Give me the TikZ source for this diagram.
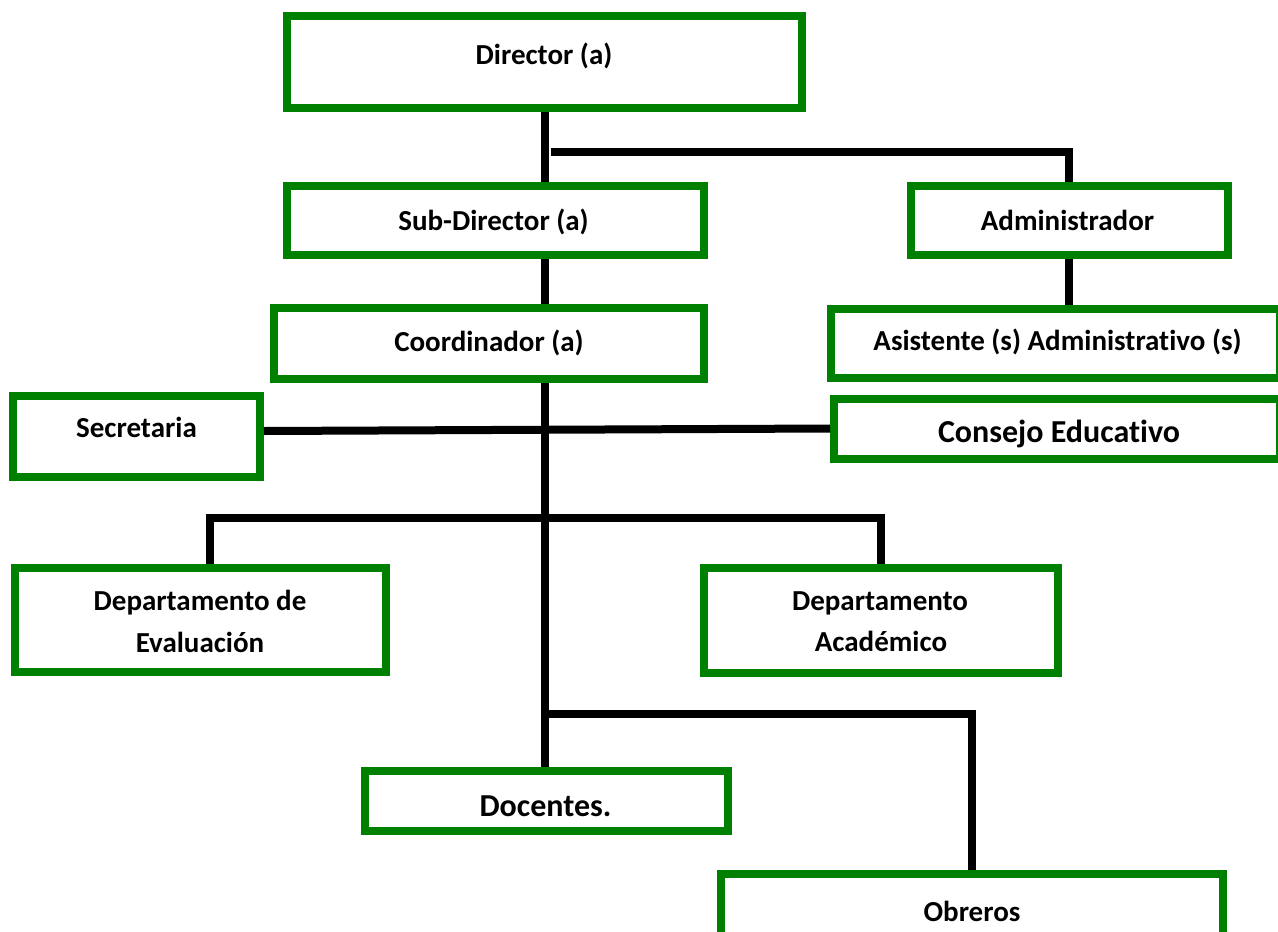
\documentclass[tikz,border=0pt]{standalone}
\usepackage{fontspec}
\setmainfont{Carlito}[Ligatures=NoCommon]
\definecolor{boxgreen}{RGB}{0,128,0}
\begin{document}
\begin{tikzpicture}[x=1pt,y=-1pt,
  box/.style={draw=boxgreen, line width=8pt, inner sep=0pt, fill=white},
  lbl/.style={anchor=base, inner sep=0pt, font=\fontsize{29}{35}\selectfont\bfseries},
  lblbig/.style={anchor=base, inner sep=0pt, font=\fontsize{32}{38}\selectfont\bfseries},
  conn/.style={line width=8pt, draw=black, line join=miter}]
\useasboundingbox (0,0) rectangle (1278,932);
\fill[white] (0,0) rectangle (1278,932);
\clip (0,0) rectangle (1278,932);

% boxes
\node[box, minimum width=515pt, minimum height=92pt] (dir) at (544.5,62) {};
\node[box, minimum width=417pt, minimum height=69pt] (sub) at (495.5,220.5) {};
\node[box, minimum width=317pt, minimum height=69pt] (adm) at (1069.5,220.5) {};
\node[box, minimum width=430pt, minimum height=71pt] (coo) at (489,343.5) {};
\node[box, minimum width=449pt, minimum height=69pt] (asi) at (1055.5,343.5) {};
\node[box, minimum width=247pt, minimum height=81pt] (sec) at (136.5,436.5) {};
\node[box, minimum width=446pt, minimum height=60pt] (con) at (1057,429) {};
\node[box, minimum width=371pt, minimum height=104pt] (dev) at (200.5,620) {};
\node[box, minimum width=354pt, minimum height=105pt] (dac) at (881,620.5) {};
\node[box, minimum width=363pt, minimum height=60pt] (doc) at (546.5,801) {};
\node[box, minimum width=502pt, minimum height=67pt] (obr) at (972,907) {};

% texts
\node[lbl] (tdir) at (544,64) {Director (a)};
\node[lbl] (tsub) at (493.5,230) {Sub-Director (a)};
\node[lbl] (tadm) at (1067.5,230) {Administrador};
\node[lbl] (tcoo) at (489,351) {Coordinador (a)};
\node[lbl] (tasi) at (1057.5,350) {Asistente (s) Administrativo (s)};
\node[lbl] (tsec) at (136.5,437) {Secretaria};
\node[lblbig] (tcon) at (1059,442) {Consejo Educativo};
\node[lbl] (tdev1) at (200,610) {Departamento de};
\node[lbl] (tdev2) at (200,652) {Evaluación};
\node[lbl] (tdac1) at (880,610) {Departamento};
\node[lbl] (tdac2) at (881,651) {Académico};
\node[lblbig] (tdoc) at (545.5,816) {Docentes.};
\node[lbl] (tobr) at (972,921) {Obreros};

% junction coordinates
\coordinate (spine) at (545,0);
\coordinate (hA) at (551,151.5);
\coordinate (hAr) at (1069,151.5);
\coordinate (dj1) at (209.5,518);
\coordinate (dj2) at (881,518);
\coordinate (oj1) at (545,714);
\coordinate (oj2) at (972,714);

% connectors
\draw[conn] (spine |- dir.south) -- (spine |- sub.north);
\draw[conn] (hA) -- (hAr) -- (hAr |- adm.north);
\draw[conn] (spine |- sub.south) -- (spine |- coo.north);
\draw[conn] (1069,0 |- adm.south) -- (1069,0 |- asi.north);
\draw[conn] (spine |- coo.south) -- (spine |- doc.north);
\draw[conn] (sec.east |- 0,431) -- (con.west |- 0,428.5);
\draw[conn] (dj1 |- dev.north) -- (dj1) -- (dj2) -- (dj2 |- dac.north);
\draw[conn] (oj1) -- (oj2) -- (oj2 |- obr.north);
\end{tikzpicture}
\end{document}
